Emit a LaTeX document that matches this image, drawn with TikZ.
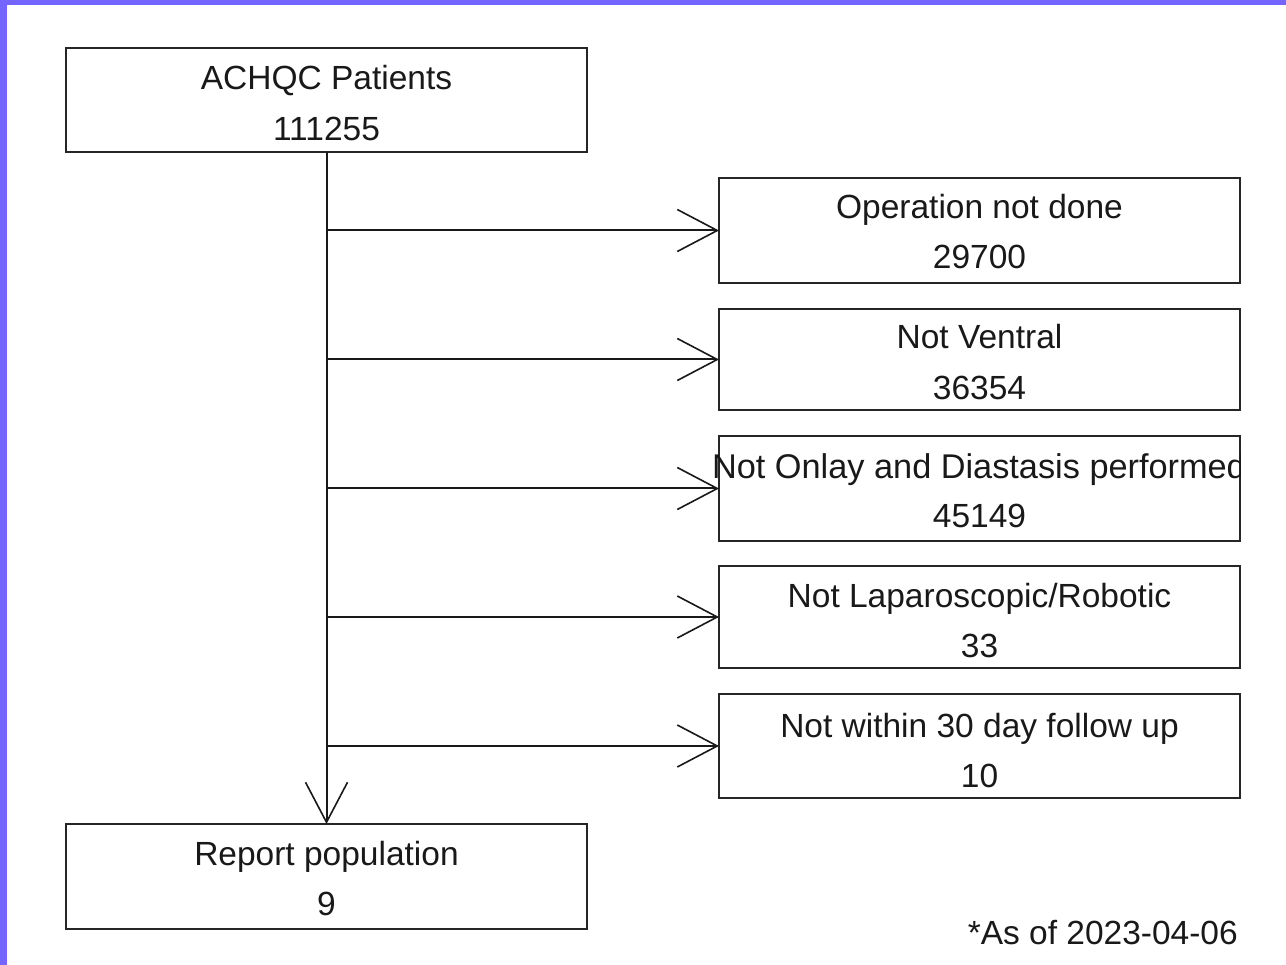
\documentclass[tikz,border=0pt]{standalone}
\usepackage{fontspec}
\setmainfont{Liberation Sans}
\usetikzlibrary{arrows.meta}
\definecolor{frame}{HTML}{7565FF}
\begin{document}
\begin{tikzpicture}[x=1pt,y=-1pt,
  box/.style={draw=black!85, line width=2pt, inner sep=0pt, outer sep=0pt, anchor=north west, minimum width=521pt, minimum height=104pt},
  txt/.style={anchor=base, inner sep=0pt, font=\fontsize{33.5}{40}\selectfont, text=black!90},
  conn/.style={line width=2pt, draw=black!90, -{Straight Barb[length=40pt, width=42pt, line width=1.6pt]}}]
\useasboundingbox (0,0) rectangle (1286,965);
\fill[white] (0,0) rectangle (1286,965);
\fill[frame] (0,0) rectangle (7,965);
\fill[frame] (0,0) rectangle (1286,5);
% boxes
\node[box] (top) at (66,48) {};
\node[box, minimum height=105pt] (b1) at (719,178) {};
\node[box, minimum height=101pt] (b2) at (719,309) {};
\node[box, minimum height=105pt] (b3) at (719,436) {};
\node[box, minimum height=102pt] (b4) at (719,566) {};
\node[box, minimum height=104pt] (b5) at (719,694) {};
\node[box, minimum height=105pt] (rep) at (66,824) {};
% texts
\node[txt] (t0a) at (326.5,90) {ACHQC Patients};
\node[txt] (t0b) at (326.5,141) {111255};
\node[txt] (t1a) at (979.5,219) {Operation not done};
\node[txt] (t1b) at (979.5,269) {29700};
\node[txt] (t2a) at (979.5,349) {Not Ventral};
\node[txt] (t2b) at (979.5,400) {36354};
\begin{scope}
\clip (700,430) rectangle (1240,545);
\node[txt, font=\fontsize{34.3}{40}\selectfont] (t3a) at (979,479) {Not Onlay and Diastasis performed};
\end{scope}
\node[txt] (t3b) at (979.5,528) {45149};
\node[txt] (t4a) at (979.5,607) {Not Laparoscopic/Robotic};
\node[txt] (t4b) at (979.5,657) {33};
\node[txt] (t5a) at (979.5,737) {Not within 30 day follow up};
\node[txt] (t5b) at (979.5,787) {10};
\node[txt] (r1) at (326.5,865) {Report population};
\node[txt] (r2) at (326.5,915) {9};
\node[txt, anchor=base east] (note) at (1238,944) {*As of 2023-04-06};
% connectors
\draw[conn] (top.south) -- (rep.north);
\draw[conn] (top.south |- b1.west) -- (b1.west);
\draw[conn] (top.south |- b2.west) -- (b2.west);
\draw[conn] (top.south |- b3.west) -- (b3.west);
\draw[conn] (top.south |- b4.west) -- (b4.west);
\draw[conn] (top.south |- b5.west) -- (b5.west);
\end{tikzpicture}
\end{document}
